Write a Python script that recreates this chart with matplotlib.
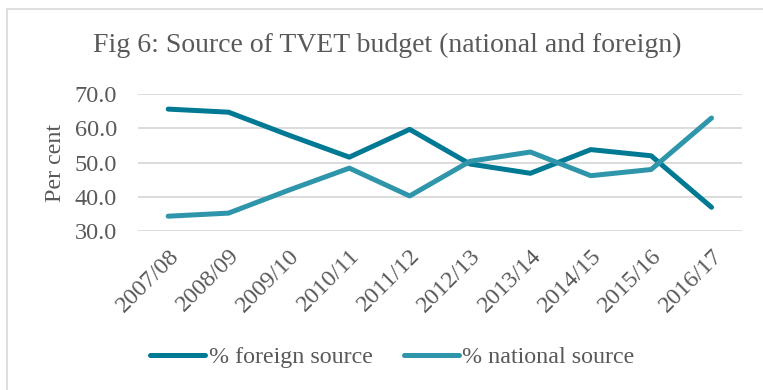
import matplotlib.pyplot as plt
from matplotlib.patches import Rectangle

# Data
years = ['2007/08', '2008/09', '2009/10', '2010/11', '2011/12',
         '2012/13', '2013/14', '2014/15', '2015/16', '2016/17']
foreign = [65.6, 64.7, 58.0, 51.6, 59.7, 49.6, 46.9, 53.8, 52.0, 37.0]
national = [34.4, 35.3, 42.0, 48.4, 40.3, 50.4, 53.1, 46.2, 48.0, 63.0]

plt.rcParams['font.family'] = ['Liberation Serif', 'DejaVu Serif']
grey = '#595959'

fig = plt.figure(figsize=(7.63, 3.90), dpi=100)
ax = fig.add_axes([138 / 763, 1 - 231.3 / 390, (741.7 - 138) / 763, (231.3 - 94) / 390])

# outer chart border
fig.patches.append(Rectangle((7 / 763, -0.1), 1.1, 1 - 9.3 / 390 + 0.1, transform=fig.transFigure,
                             fill=False, edgecolor='#D9D9D9', linewidth=1.2))

x = range(len(years))
ax.plot(x, foreign, color='#007A94', linewidth=3.6, solid_capstyle='round', label='% foreign source')
ax.plot(x, national, color='#2E95AB', linewidth=3.6, solid_capstyle='round', label='% national source')

ax.set_xlim(-0.5, len(years) - 0.5)
ax.set_ylim(30, 70)
ax.set_yticks([30, 40, 50, 60, 70])
ax.set_yticklabels([f'{v:.1f}' for v in [30, 40, 50, 60, 70]])
ax.set_xticks(list(x))
ax.set_xticklabels(years, rotation=45, ha='right', rotation_mode='anchor')
ax.tick_params(axis='both', length=0, labelsize=17.5, labelcolor=grey)
ax.tick_params(axis='y', pad=15)
ax.tick_params(axis='x', pad=10)
ax.grid(axis='y', color='#D9D9D9', linewidth=1.3)
ax.set_axisbelow(True)
for s in ax.spines.values():
    s.set_visible(False)

ax.set_ylabel('Per cent', fontsize=17.3, color=grey, labelpad=6)
fig.text(0.508, 1 - 45 / 390, 'Fig 6: Source of TVET budget (national and foreign)',
         fontsize=20, color=grey, ha='center', va='center')

fig.legend(loc='center', bbox_to_anchor=(0.514, 1 - 357 / 390), ncol=2, frameon=False,
           fontsize=17.3, labelcolor=grey, handlelength=2.3, handletextpad=0.15, columnspacing=1.3)

fig.savefig('out.png', dpi=100)
